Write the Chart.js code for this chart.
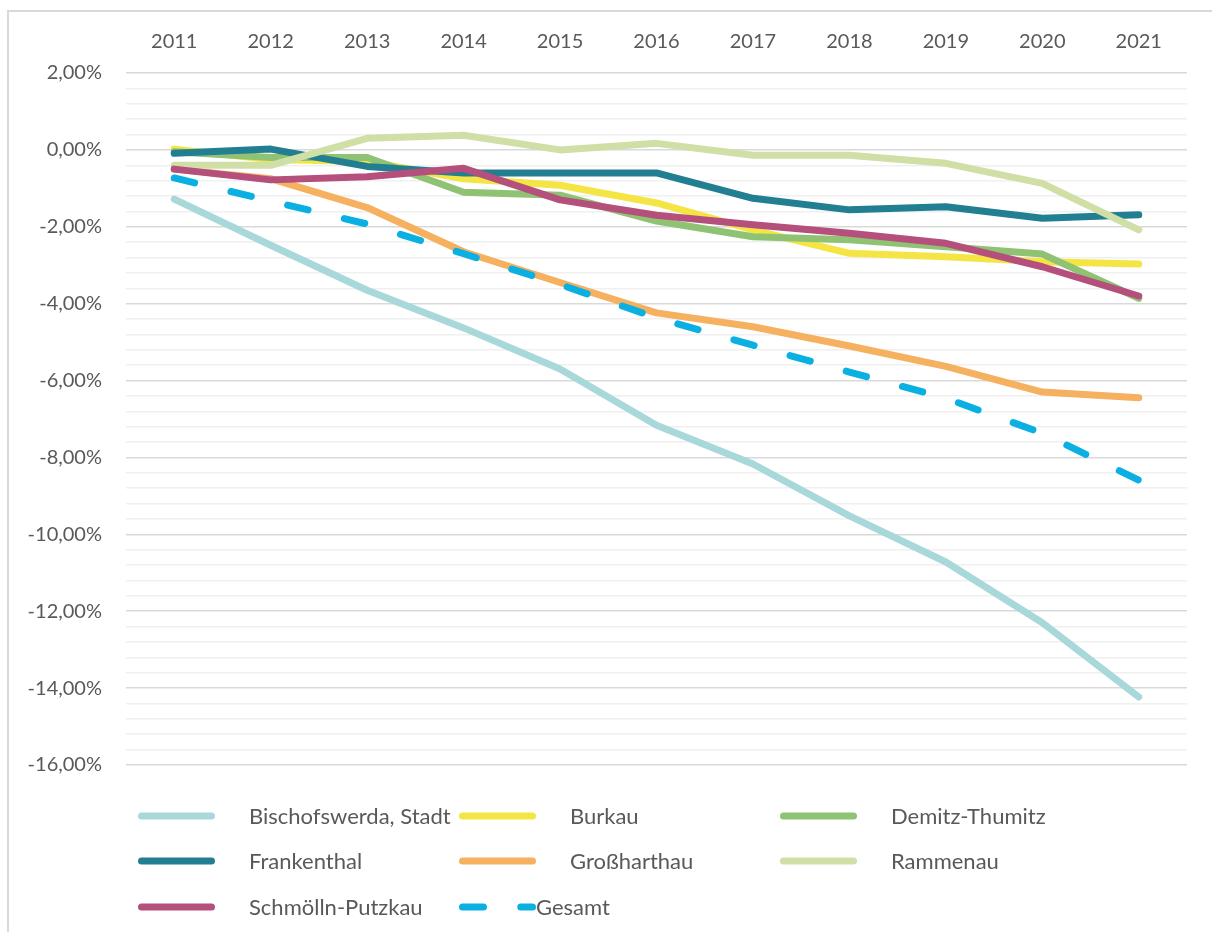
<!DOCTYPE html>
<html>
<head>
<meta charset="utf-8">
<script src="https://cdn.jsdelivr.net/npm/chart.js@4.4.1/dist/chart.umd.min.js"></script>
<style>
  html, body { margin: 0; padding: 0; width: 1212px; height: 932px; overflow: hidden; background: #fff; }
  #frame { position: absolute; left: 7px; top: 10px; width: 1300px; height: 1000px; border: 2px solid #d9d9d9; box-sizing: border-box; }
  #wrap { position: absolute; left: 0; top: 0; width: 1212px; height: 932px; }
  #legend { position: absolute; left: 0; top: 0; width: 1212px; height: 932px; pointer-events: none; font-family: Lato, sans-serif; font-size: 22px; color: #595959; }
  .li-sw { position: absolute; }
  .li-tx { position: absolute; line-height: 26px; white-space: nowrap; }
</style>
</head>
<body>
<div id="frame"></div>
<div id="wrap"><canvas id="c" width="1212" height="932"></canvas></div>
<div id="legend"></div>
<script>
// ---- data ----
const years = ['2011','2012','2013','2014','2015','2016','2017','2018','2019','2020','2021'];
const seriesNames = ['Bischofswerda, Stadt','Burkau','Demitz-Thumitz','Frankenthal','Großharthau','Rammenau','Schmölln-Putzkau','Gesamt'];
const bischofswerda = [-1.28, -2.48, -3.65, -4.63, -5.70, -7.16, -8.17, -9.52, -10.72, -12.30, -14.23];
const burkau        = [0.02, -0.25, -0.30, -0.75, -0.92, -1.38, -2.08, -2.69, -2.78, -2.91, -2.97];
const demitz        = [-0.05, -0.20, -0.20, -1.10, -1.18, -1.85, -2.26, -2.34, -2.52, -2.71, -3.86];
const frankenthal   = [-0.09, 0.02, -0.43, -0.60, -0.60, -0.60, -1.26, -1.56, -1.48, -1.78, -1.69];
const grossharthau  = [-0.50, -0.75, -1.50, -2.65, -3.45, -4.24, -4.60, -5.10, -5.63, -6.30, -6.45];
const rammenau      = [-0.40, -0.40, 0.30, 0.38, 0.00, 0.17, -0.14, -0.14, -0.35, -0.87, -2.08];
const schmoelln     = [-0.50, -0.78, -0.70, -0.48, -1.30, -1.70, -1.95, -2.17, -2.43, -3.04, -3.80];
const gesamt        = [-0.73, -1.33, -1.93, -2.70, -3.50, -4.37, -5.08, -5.78, -6.46, -7.37, -8.59];
const yMin = -16, yMax = 2, yStep = 0.4, yLabelStep = 2;

const seriesValues = [bischofswerda, burkau, demitz, frankenthal, grossharthau, rammenau, schmoelln, gesamt];
const colors = ['#a9d8da','#f4e545','#8fc373','#227f91','#f6b160','#cfdfa6','#b54f7c','#0bb0e2'];
const dashes = [[],[],[],[],[],[],[],[21,37.3]];

const FONT = 'Lato, sans-serif';
const TXT = '#595959';

const datasets = seriesValues.map((vals, i) => ({
  label: seriesNames[i],
  data: vals,
  borderColor: colors[i],
  backgroundColor: colors[i],
  borderWidth: 7,
  borderDash: dashes[i],
  borderCapStyle: 'round',
  borderJoinStyle: 'round',
  pointRadius: 0,
  pointHoverRadius: 0,
  tension: 0,
  fill: false,
  order: seriesValues.length - i
}));

const isMajor = v => Math.abs(v / yLabelStep - Math.round(v / yLabelStep)) < 1e-6;

const chart = new Chart(document.getElementById('c'), {
  type: 'line',
  data: { labels: years, datasets },
  options: {
    responsive: false,
    animation: false,
    devicePixelRatio: 1,
    layout: { padding: { left: 0, top: 0, right: 25, bottom: 167 } },
    plugins: { legend: { display: false }, tooltip: { enabled: false } },
    scales: {
      x: {
        type: 'category',
        position: 'top',
        offset: true,
        grid: { display: false, drawTicks: false },
        border: { display: false },
        ticks: { color: TXT, font: { family: FONT, size: 20 }, padding: 19, maxRotation: 0 },
        afterFit: s => { s.height = 73; }
      },
      y: {
        min: yMin, max: yMax,
        grid: {
          drawTicks: false,
          color: ctx => isMajor(ctx.tick.value) ? '#d9d9d9' : '#f0f0f0',
          lineWidth: 1.5
        },
        border: { display: false },
        ticks: {
          stepSize: yStep,
          autoSkip: false,
          color: TXT,
          font: { family: FONT, size: 20 },
          padding: 24,
          callback: v => isMajor(v) ? (Math.round(v)).toFixed(2).replace('.', ',') + '%' : ''
        },
        afterFit: s => { s.width = 126; }
      }
    }
  }
});

// ---- HTML legend built from the chart's datasets ----
const legend = document.getElementById('legend');
const colX = [138, 459, 780];
const rowY = [816, 861, 907];
chart.data.datasets.forEach((ds, i) => {
  const col = i % 3, row = Math.floor(i / 3);
  const sx = colX[col], cy = rowY[row];
  const cv = document.createElement('canvas');
  cv.width = 80; cv.height = 12;
  cv.className = 'li-sw';
  cv.style.left = sx + 'px';
  cv.style.top = (cy - 6) + 'px';
  const g = cv.getContext('2d');
  g.strokeStyle = ds.borderColor;
  g.lineWidth = 7;
  g.lineCap = 'round';
  g.setLineDash(ds.borderDash || []);
  g.beginPath();
  g.moveTo(3.5, 6);
  g.lineTo(73.5, 6);
  g.stroke();
  legend.appendChild(cv);
  const tx = document.createElement('div');
  tx.className = 'li-tx';
  tx.textContent = ds.label;
  tx.style.left = (ds.borderDash && ds.borderDash.length ? sx + 77 : sx + 111) + 'px';
  tx.style.top = (cy - 13) + 'px';
  legend.appendChild(tx);
});
</script>
</body>
</html>
